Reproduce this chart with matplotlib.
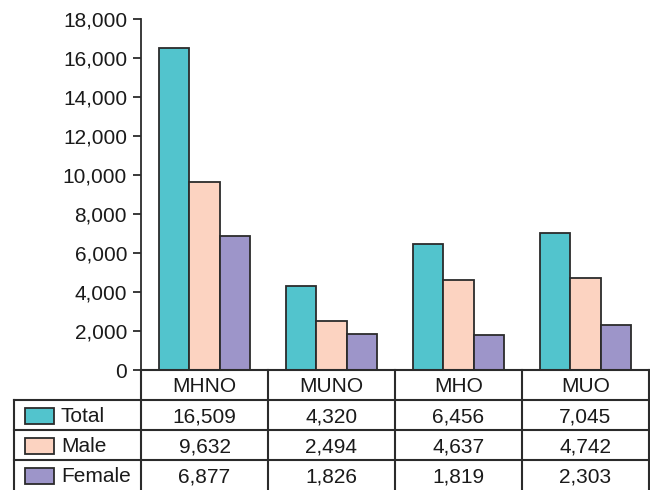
import matplotlib
matplotlib.use("Agg")
import matplotlib.pyplot as plt
from matplotlib.patches import Rectangle
from matplotlib.ticker import FuncFormatter

plt.rcParams['font.family'] = ['Liberation Sans', 'DejaVu Sans']

categories = ["MHNO", "MUNO", "MHO", "MUO"]
series_names = ["Total", "Male", "Female"]
total = [16509, 4320, 6456, 7045]
male = [9632, 2494, 4637, 4742]
female = [6877, 1826, 1819, 2303]
series_values = [total, male, female]
colors = ["#52C4CD", "#FCD3C1", "#9D95C9"]
edge = "#2b2b2b"
text_color = "#1a1a1a"
yticks = list(range(0, 18001, 2000))

W, H = 650, 490
FS = 15
fig = plt.figure(figsize=(W / 100, H / 100), dpi=100)

# layout in pixels: table columns 127 px wide, right edge at 649
col_w = 127
right = 649
left_tab = right - col_w * 5
left_ax = right - col_w * 4

# chart area
ax = fig.add_axes([left_ax / W, (H - 370) / H, (right - left_ax) / W, (370 - 19) / H])
n = len(categories)
bw = 0.24
for i, (vals, c) in enumerate(zip(series_values, colors)):
    xs = [k + (i - 1) * bw for k in range(n)]
    ax.bar(xs, vals, width=bw, color=c, edgecolor=edge, linewidth=1.3, zorder=3)

ax.set_xlim(-0.5, n - 0.5)
ax.set_ylim(0, 18000)
ax.set_yticks(yticks)
ax.yaxis.set_major_formatter(FuncFormatter(lambda v, p: f"{int(v):,}"))
ax.tick_params(axis="y", direction="out", length=6, width=1.3, color=edge,
               labelsize=FS, pad=4, labelcolor=text_color)
ax.set_xticks([])
for s in ["top", "right", "bottom"]:
    ax.spines[s].set_visible(False)
ax.spines["left"].set_linewidth(1.3)
ax.spines["left"].set_color(edge)

# data table below the chart
tab = fig.add_axes([left_tab / W, 0, (right - left_tab) / W, 120 / H])
tab.set_xlim(-1.5, n - 0.5)
tab.set_ylim(4, 0)
tab.axis("off")
lw = 1.5
tab.plot([-0.5, n - 0.5], [0, 0], color=edge, lw=lw, clip_on=False)
for r in (1, 2, 3):
    tab.plot([-1.5, n - 0.5], [r, r], color=edge, lw=lw, clip_on=False)
tab.plot([-1.5, -1.5], [1, 4], color=edge, lw=lw, clip_on=False)
for k in range(n + 1):
    tab.plot([k - 0.5, k - 0.5], [0, 4], color=edge, lw=lw, clip_on=False)

for k, cat in enumerate(categories):
    tab.text(k, 0.55, cat, ha="center", va="center", fontsize=FS, color=text_color)
for r, (name, vals, c) in enumerate(zip(series_names, series_values, colors), start=1):
    tab.add_patch(Rectangle((-1.415, r + 0.25), 0.23, 0.55, facecolor=c,
                            edgecolor=edge, linewidth=1.3, clip_on=False))
    tab.text(-1.13, r + 0.55, name, ha="left", va="center", fontsize=FS, color=text_color)
    for k, v in enumerate(vals):
        tab.text(k, r + 0.55, f"{v:,}", ha="center", va="center", fontsize=FS,
                 color=text_color)

fig.savefig("out.png", dpi=100)
